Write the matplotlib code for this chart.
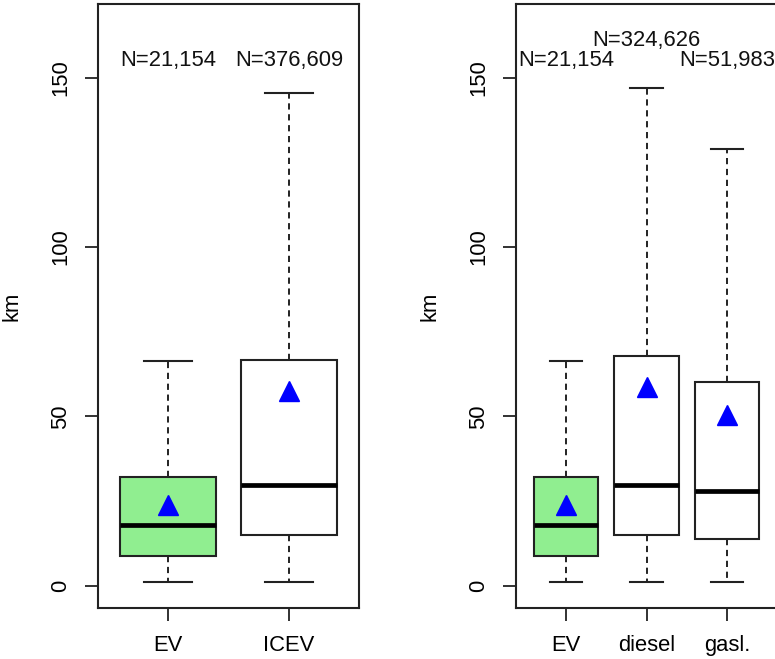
import matplotlib
matplotlib.use("Agg")
import matplotlib.pyplot as plt

plt.rcParams['font.family'] = ['Liberation Sans', 'DejaVu Sans']

# ---- data ----
left_labels = ["EV", "ICEV"]
left_whislo = [1.0, 1.0]
left_q1 = [8.7, 14.9]
left_med = [18.0, 29.8]
left_q3 = [32.0, 66.7]
left_whishi = [66.2, 145.3]
left_mean = [23.9, 57.4]
left_n = ["N=21,154", "N=376,609"]
left_n_y = [155, 155]

right_labels = ["EV", "diesel", "gasl."]
right_whislo = [1.0, 1.0, 1.0]
right_q1 = [8.7, 14.9, 13.8]
right_med = [18.0, 29.8, 27.8]
right_q3 = [32.0, 67.8, 60.1]
right_whishi = [66.2, 147.0, 128.9]
right_mean = [23.9, 58.5, 50.3]
right_n = ["N=21,154", "N=324,626", "N=51,983"]
right_n_y = [155, 161, 155]

y_ticks = [0, 50, 100, 150]
box_colors_left = ["#90EE90", "white"]
box_colors_right = ["#90EE90", "white", "white"]

W, H = 775, 659
fig = plt.figure(figsize=(W / 100, H / 100), dpi=100)
fig.patch.set_facecolor("white")

FS = 15.8
EDGE = "#222222"


def panel(rect, labels, lo, q1, med, q3, hi, mean, ns, ny, colors):
    ax = fig.add_axes(rect)
    stats = []
    for i in range(len(labels)):
        stats.append(dict(whislo=lo[i], q1=q1[i], med=med[i], q3=q3[i],
                          whishi=hi[i], mean=mean[i], fliers=[], label=labels[i]))
    pos = list(range(1, len(labels) + 1))
    bp = ax.bxp(stats, positions=pos, widths=0.8, capwidths=0.4,
                showfliers=False, showmeans=True, patch_artist=True,
                boxprops=dict(linewidth=1.5, edgecolor=EDGE),
                medianprops=dict(linewidth=3.4, color="black", solid_capstyle="butt"),
                whiskerprops=dict(linewidth=1.4, color=EDGE, linestyle=(0, (3.2, 2.4))),
                capprops=dict(linewidth=1.5, color=EDGE),
                meanprops=dict(marker="^", markersize=14, markerfacecolor="blue",
                               markeredgecolor="blue"))
    for patch, c in zip(bp["boxes"], colors):
        patch.set_facecolor(c)
    n = len(labels)
    ax.set_xlim(0.5 - 0.04 * n, n + 0.5 + 0.04 * n)
    ax.set_ylim(-6.6, 171.7)
    ax.set_yticks(y_ticks)
    ax.set_yticklabels([str(t) for t in y_ticks], rotation=90, va="center")
    ax.set_xticks(pos)
    ax.set_xticklabels(labels)
    ax.tick_params(axis="both", labelsize=FS, length=9.5, width=1.3, color=EDGE, pad=10)
    for s in ax.spines.values():
        s.set_linewidth(1.5)
        s.set_color(EDGE)
    for x, t, yy in zip(pos, ns, ny):
        ax.text(x, yy, t, ha="center", va="center", fontsize=FS, color="#111111")
    ax.text(-86 / 261, 0.5, "km", transform=ax.transAxes, rotation=90,
            ha="center", va="center", fontsize=FS)
    return ax


bottom = (H - 608) / H
height = (608 - 4) / H
panel([98 / W, bottom, 261 / W, height], left_labels, left_whislo, left_q1,
      left_med, left_q3, left_whishi, left_mean, left_n, left_n_y, box_colors_left)
panel([516 / W, bottom, 261 / W, height], right_labels, right_whislo, right_q1,
      right_med, right_q3, right_whishi, right_mean, right_n, right_n_y, box_colors_right)

fig.savefig("out.png", dpi=100)
